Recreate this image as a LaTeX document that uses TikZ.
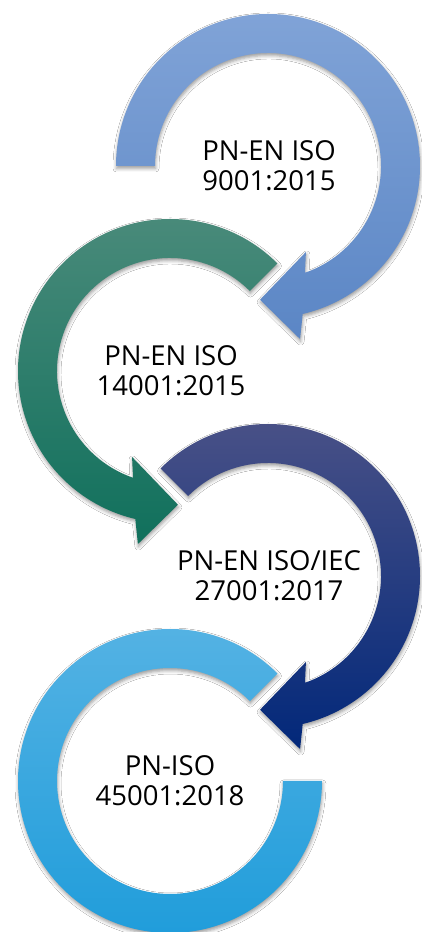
\documentclass[tikz,border=0pt]{standalone}
\usepackage{fontspec}
\setmainfont{Open Sans}
\usetikzlibrary{calc,shadows.blur}
\definecolor{aTop}{HTML}{80A3D7}
\definecolor{aBot}{HTML}{5B86C5}
\definecolor{gTop}{HTML}{4B8B7B}
\definecolor{gBot}{HTML}{10705C}
\definecolor{dTop}{HTML}{4B5287}
\definecolor{dBot}{HTML}{02287A}
\definecolor{lTop}{HTML}{56B3E4}
\definecolor{lBot}{HTML}{1E9CDA}
\tikzset{
  ring/.style={blur shadow={shadow xshift=0.5pt, shadow yshift=-2.5pt, shadow blur radius=3.5pt, shadow opacity=40}},
  label/.style={align=center, text=black, font=\fontsize{27.5pt}{30pt}\selectfont, inner sep=0pt}
}
\begin{document}
\begin{tikzpicture}[x=1pt,y=1pt]
\useasboundingbox (0,0) rectangle (422,932);
\fill[white] (0,0) rectangle (422,932);
\coordinate (c1) at (268,766);
\coordinate (c2) at (170,561);
\coordinate (c3) at (268,356);
\coordinate (c4) at (170,151);
% 1: blue, clockwise
\path[ring, top color=aTop, bottom color=aBot]
  ($(c1)+(180:152)$) arc[start angle=180, end angle=-76.8, radius=152]
  -- ($(c1)+(-79.5:176)$) -- ($(c1)+(-93.4:134)$) -- ($(c1)+(-66.2:94)$)
  -- ($(c1)+(-70.9:113)$) arc[start angle=-70.9, end angle=180, radius=113] -- cycle;
% 2: green, counter-clockwise
\path[ring, top color=gTop, bottom color=gBot]
  ($(c2)+(45:152)$) arc[start angle=45, end angle=256.8, radius=152]
  -- ($(c2)+(259.5:176)$) -- ($(c2)+(273.4:134)$) -- ($(c2)+(246.2:94)$)
  -- ($(c2)+(250.9:113)$) arc[start angle=250.9, end angle=45, radius=113] -- cycle;
% 3: dark blue, clockwise
\path[ring, top color=dTop, bottom color=dBot]
  ($(c3)+(135:152)$) arc[start angle=135, end angle=-76.8, radius=152]
  -- ($(c3)+(-79.5:176)$) -- ($(c3)+(-93.4:134)$) -- ($(c3)+(-66.2:94)$)
  -- ($(c3)+(-70.9:113)$) arc[start angle=-70.9, end angle=135, radius=113] -- cycle;
% 4: light blue, counter-clockwise, no head
\path[ring, top color=lTop, bottom color=lBot]
  ($(c4)+(45:152)$) arc[start angle=45, end angle=360, radius=152]
  -- ($(c4)+(0:113)$) arc[start angle=360, end angle=45, radius=113] -- cycle;
\node[label] (t1) at ($(c1)+(1,0)$) {PN-EN ISO\\9001:2015};
\node[label] (t2) at ($(c2)+(1,0)$) {PN-EN ISO\\14001:2015};
\node[label] (t3) at ($(c3)+(1,0)$) {PN-EN ISO/IEC\\27001:2017};
\node[label] (t4) at ($(c4)+(0,0)$) {PN-ISO\\45001:2018};
\end{tikzpicture}
\end{document}
